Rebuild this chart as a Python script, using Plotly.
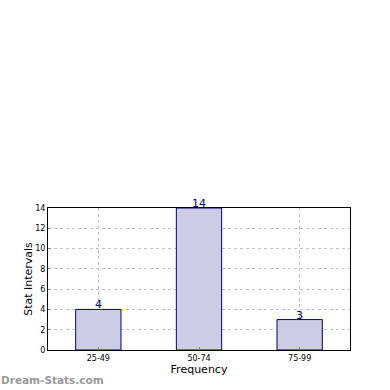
import plotly.graph_objects as go

categories = ["25-49", "50-74", "75-99"]
values = [4, 14, 3]
y_ticks = [0, 2, 4, 6, 8, 10, 12, 14]

fig = go.Figure()
fig.add_trace(go.Bar(
    x=categories, y=values, width=0.45,
    marker=dict(color="#ccccE5", line=dict(color="#000080", width=1)),
    cliponaxis=False,
))
annotations = [dict(
    x=c, y=v, xref="x", yref="y", text=str(v), showarrow=False,
    yanchor="bottom", yshift=-4, font=dict(color="#000080", size=11, family="DejaVu Sans"),
) for c, v in zip(categories, values)]
annotations.append(dict(
    text="<b>Dream-Stats.com</b>", xref="paper", yref="paper",
    x=0, y=0, xanchor="left", yanchor="middle", xshift=-49, yshift=-30,
    showarrow=False, font=dict(size=10.5, color="#999999", family="DejaVu Sans"),
))
fig.update_layout(
    width=390, height=390,
    margin=dict(l=48, r=40, t=208, b=40, autoexpand=False),
    paper_bgcolor="white", plot_bgcolor="white",
    showlegend=False,
    font=dict(family="DejaVu Sans", color="black"),
    xaxis=dict(
        range=[-0.5, 2.5], showline=True, linecolor="black", linewidth=1, mirror=True,
        showgrid=True, gridcolor="#c0c0c0", griddash="dot", gridwidth=1,
        ticks="inside", ticklen=3, tickcolor="#888", tickfont=dict(size=8),
        title=dict(text="Frequency", font=dict(size=11), standoff=3), automargin=False,
    ),
    yaxis=dict(
        range=[0, 14], tickvals=y_ticks, showline=True, linecolor="black", linewidth=1, mirror=True,
        showgrid=True, gridcolor="#c0c0c0", griddash="dot", gridwidth=1,
        ticks="inside", ticklen=3, tickcolor="#888", tickfont=dict(size=8),
        title=dict(text="Stat Intervals", font=dict(size=11), standoff=0),
        zeroline=False, automargin=False,
    ),
    annotations=annotations,
)
fig.write_html("out.html", config={"displayModeBar": False},
               post_script="document.body.style.margin='0';document.body.style.overflow='hidden';")
